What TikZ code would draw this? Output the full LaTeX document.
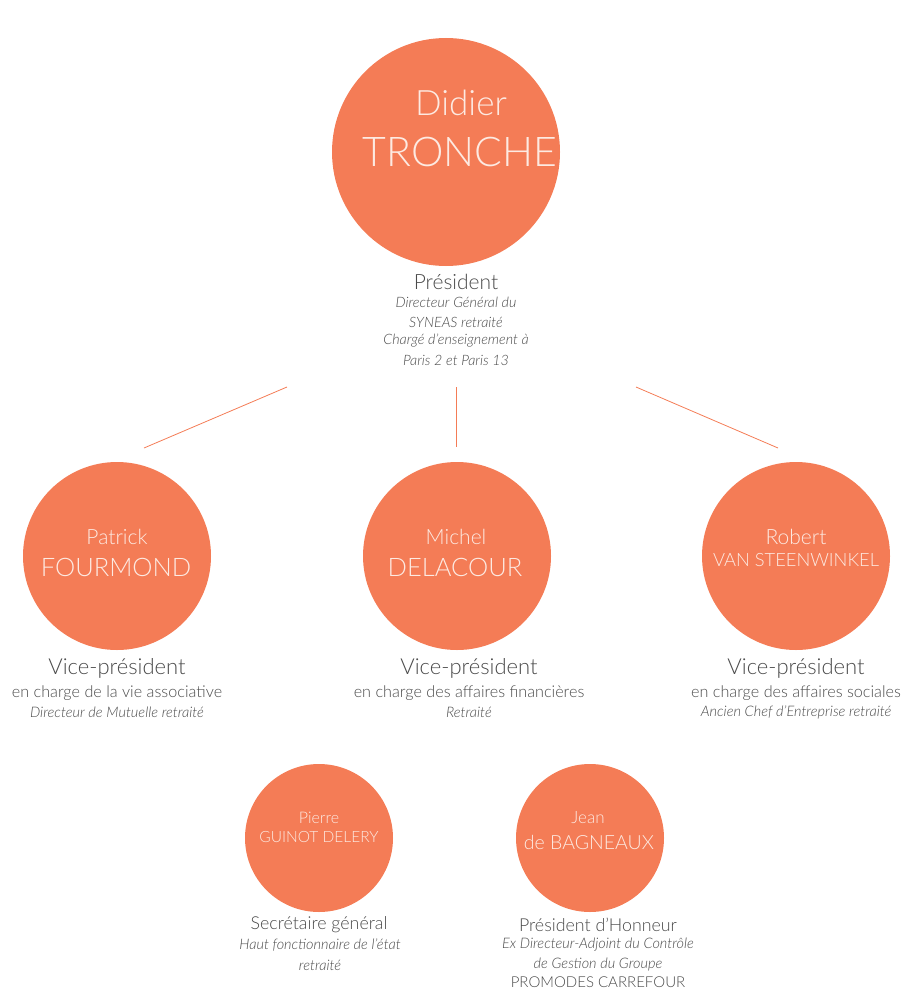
\documentclass[tikz,border=0pt]{standalone}
\usepackage{fontspec}
\IfFontExistsTF{Lato Light}{\setmainfont{Lato Light}}{\setmainfont{Lato}}
\definecolor{salmon}{HTML}{F47C56}
\definecolor{txt}{HTML}{4A4A4A}
\definecolor{lite}{HTML}{FDEAE2}
\newcommand{\fs}[1]{\fontsize{#1}{#1}\selectfont}
\begin{document}
\begin{tikzpicture}[x=1pt,y=-1pt,
  person/.style={circle,fill=salmon,draw=none,inner sep=0pt},
  nm/.style={text=lite,inner sep=0pt},
  lbl/.style={text=txt,inner sep=0pt},
  link/.style={draw=salmon,line width=0.8pt}]
\useasboundingbox (0,0) rectangle (903,990);
% circles
\node[person,minimum size=228pt] (dt) at (446,152) {};
\node[person,minimum size=188pt] (pf) at (117,556) {};
\node[person,minimum size=188pt] (md) at (457,556) {};
\node[person,minimum size=188pt] (rv) at (796,556) {};
\node[person,minimum size=148pt] (pg) at (319,838) {};
\node[person,minimum size=148pt] (jb) at (590,838) {};
% names
\node[nm] (dt1) at (461,103) {\fs{35}Didier};
\node[nm] (dt2) at (460,152) {\fs{41}TRONCHE};
\node[nm] (pf1) at (117,537) {\fs{21}Patrick};
\node[nm] (pf2) at (116,567) {\fs{25.5}FOURMOND};
\node[nm] (md1) at (456,537) {\fs{21}Michel};
\node[nm] (md2) at (455,567) {\fs{25.5}DELACOUR};
\node[nm] (rv1) at (796,537) {\fs{21}Robert};
\node[nm] (rv2) at (796,560) {\fs{18.3}VAN STEENWINKEL};
\node[nm] (pg1) at (319,818) {\fs{16}Pierre};
\node[nm] (pg2) at (319,837) {\fs{15.5}GUINOT DELERY};
\node[nm] (jb1) at (588,818) {\fs{17}Jean};
\node[nm] (jb2) at (589,842) {\fs{19.5}de BAGNEAUX};
% president labels
\node[lbl] (p0) at (456,282) {\fs{21}Président};
\node[lbl] (p1) at (456,302) {\fs{14.3}\itshape Directeur Général du};
\node[lbl] (p2) at (456,322) {\fs{14.3}\itshape SYNEAS retraité};
\node[lbl] (p3) at (456,341) {\fs{14.3}\itshape Chargé d’enseignement à};
\node[lbl] (p4) at (456,360) {\fs{14.3}\itshape Paris 2 et Paris 13};
% vice-presidents
\node[lbl] (a0) at (117,668) {\fs{22}Vice-président};
\node[lbl] (a1) at (117,693) {\fs{16.2}en charge de la vie associative};
\node[lbl] (a2) at (117,712) {\fs{14.5}\itshape Directeur de Mutuelle retraité};
\node[lbl] (b0) at (469,668) {\fs{22}Vice-président};
\node[lbl] (b1) at (469,693) {\fs{16.2}en charge des affaires financières};
\node[lbl] (b2) at (469,712) {\fs{14.5}\itshape Retraité};
\node[lbl] (c0) at (796,668) {\fs{22}Vice-président};
\node[lbl] (c1) at (796,693) {\fs{16.2}en charge des affaires sociales};
\node[lbl] (c2) at (796,712) {\fs{14.5}\itshape Ancien Chef d’Entreprise retraité};
% bottom
\node[lbl] (d0) at (319,925) {\fs{17.8}Secrétaire général};
\node[lbl] (d1) at (320,945) {\fs{14.5}\itshape Haut fonctionnaire de l’état};
\node[lbl] (d2) at (320,965) {\fs{14.5}\itshape retraité};
\node[lbl] (e0) at (598,925) {\fs{17.8}Président d’Honneur};
\node[lbl] (e1) at (598,945) {\fs{14.5}\itshape Ex Directeur-Adjoint du Contrôle};
\node[lbl] (e2) at (598,964) {\fs{14.5}\itshape de Gestion du Groupe};
\node[lbl] (e3) at (598,982) {\fs{15}PROMODES CARREFOUR};
% connectors
\coordinate (s1) at (287,387); \coordinate (t1) at (144,448);
\coordinate (s2) at (456,387); \coordinate (t2) at (456,447);
\coordinate (s3) at (636,387); \coordinate (t3) at (778,448);
\draw[link] (s1) -- (t1);
\draw[link] (s2) -- (t2);
\draw[link] (s3) -- (t3);
\end{tikzpicture}
\end{document}
